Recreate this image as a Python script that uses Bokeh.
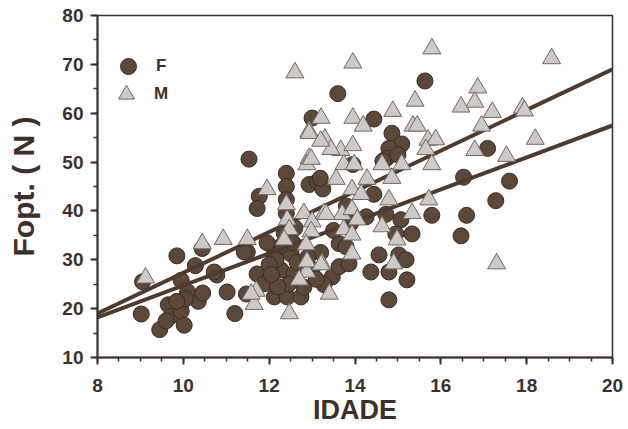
from bokeh.plotting import figure
from bokeh.models import Range1d, Legend, LegendItem, ColumnDataSource, SingleIntervalTicker
from bokeh.embed import file_html
from bokeh.resources import INLINE

# ---- data ----
f_age = [9.05, 9.02, 9.85, 10.44, 10.28, 10.78, 9.95, 10.10, 10.35, 10.45, 9.65, 9.72, 9.45, 9.95,
         10.02, 10.05, 9.60, 9.85, 11.02, 11.20, 11.49, 11.47, 11.53, 12.40, 12.40, 12.40, 12.40,
         11.77, 11.72, 12.93, 13.12, 13.25, 11.72, 11.88, 12.12, 12.42, 12.74, 12.12, 12.51, 12.28,
         12.58, 12.81, 12.16, 12.30, 12.00, 12.45, 12.65, 12.20, 11.95, 12.35, 12.60, 11.42, 10.72,
         13.00, 13.60, 14.44, 14.86, 15.09, 14.79, 14.74, 15.00, 14.44, 14.26, 14.72, 15.07, 15.33,
         14.95, 13.63, 14.56, 15.02, 15.19, 14.37, 14.79, 15.21, 14.79, 13.47, 13.63, 13.28, 13.86,
         13.79, 13.00, 13.20, 13.50, 13.90, 13.80, 13.95, 13.19, 14.65, 15.63, 17.09, 16.53, 17.60,
         17.28, 15.79, 16.60, 16.47, 12.05, 12.55, 12.90, 13.10]
f_fopt = [25.5, 18.9, 30.8, 32.3, 28.8, 26.9, 25.8, 23.4, 21.5, 23.2, 20.8, 18.5, 15.7, 19.5,
          16.6, 22.0, 17.5, 21.5, 23.4, 19.0, 31.6, 23.0, 50.6, 47.7, 45.0, 42.3, 39.5,
          43.0, 40.5, 45.4, 46.0, 44.5, 27.1, 25.1, 22.4, 22.4, 22.4, 31.2, 31.2, 27.9,
          27.1, 24.4, 30.0, 33.0, 29.0, 25.0, 29.5, 24.5, 33.5, 35.5, 36.5, 31.6, 27.5,
          59.0, 64.0, 58.8, 55.9, 53.7, 52.8, 50.8, 51.5, 43.4, 38.8, 39.3, 38.2, 35.3,
          35.3, 33.3, 31.0, 31.0, 30.0, 27.5, 27.5, 25.9, 21.8, 26.5, 28.6, 24.9, 29.2,
          32.7, 28.0, 31.5, 36.0, 37.5, 41.0, 49.5, 46.7, 50.2, 66.6, 52.8, 46.9, 46.1,
          42.1, 39.1, 39.1, 34.9, 27.0, 33.5, 30.5, 26.0]

m_age = [9.12, 10.44, 10.93, 11.49, 11.70, 11.65, 11.58, 12.47, 11.95, 12.40, 12.42, 12.47, 12.81,
         13.00, 12.98, 12.60, 12.93, 12.93, 12.88, 13.95, 15.40, 14.88, 13.95, 14.19, 13.21, 15.35,
         15.45, 13.30, 13.67, 13.95, 13.44, 15.70, 15.88, 15.65, 15.79, 15.72, 13.74, 13.98, 14.63,
         15.09, 13.56, 14.28, 14.86, 13.93, 14.14, 14.79, 15.33, 13.28, 13.70, 13.93, 14.05, 14.63,
         13.74, 13.93, 14.98, 13.93, 13.23, 14.90, 13.40, 12.93, 13.20, 12.98, 12.35, 12.88, 12.88,
         12.70, 13.21, 12.86, 13.33, 15.79, 18.58, 16.86, 16.79, 16.47, 17.20, 17.90, 17.95, 16.95,
         18.20, 16.79, 17.53, 17.30]
m_fopt = [26.3, 33.3, 34.2, 34.2, 23.6, 20.9, 23.0, 19.0, 44.4, 41.3, 38.2, 36.2, 39.5,
          37.8, 35.8, 68.3, 56.3, 50.8, 49.5, 70.3, 62.5, 60.4, 59.0, 57.4, 59.0, 57.4,
          57.4, 54.7, 52.4, 53.4, 52.6, 54.5, 54.6, 52.6, 49.5, 42.3, 49.5, 49.5, 49.5,
          49.5, 46.5, 46.5, 46.7, 44.4, 43.4, 42.3, 39.5, 39.5, 39.3, 40.3, 38.2, 36.8,
          36.2, 35.1, 34.1, 31.2, 29.2, 29.2, 23.0, 55.9, 54.3, 50.6, 34.1, 27.5, 29.6,
          25.9, 29.0, 33.1, 39.3, 73.2, 71.2, 65.2, 62.3, 61.3, 60.2, 61.1, 60.5, 57.4,
          54.7, 52.4, 51.2, 29.2]

line_x = [8, 20]
m_line_y = [19.0, 69.0]
f_line_y = [18.2, 57.5]

# ---- style ----
INK = "#3b302a"
BROWN = "#5c4838"
FONT = "Liberation Sans"

p = figure(width=628, height=429, output_backend="svg", toolbar_location=None,
           x_range=Range1d(8, 20), y_range=Range1d(10, 80),
           min_border_left=97, min_border_top=15, min_border_right=16, min_border_bottom=72)
p.background_fill_color = "white"
p.border_fill_color = "white"
p.outline_line_color = INK
p.outline_line_width = 1.5
p.grid.visible = False

fs = ColumnDataSource(dict(x=f_age, y=f_fopt))
ms = ColumnDataSource(dict(x=m_age, y=m_fopt))

rf = p.scatter("x", "y", source=fs, marker="circle", size=16,
               fill_color=BROWN, line_color="#3a2c22", line_width=1)
p.line(line_x, m_line_y, line_color="#4e3b2e", line_width=4)
p.line(line_x, f_line_y, line_color="#4e3b2e", line_width=4)
rm = p.scatter("x", "y", source=ms, marker="triangle", size=18,
               fill_color="#cdc9c6", line_color="#6f6863", line_width=1)

# axes
for ax in (p.xaxis[0], p.yaxis[0]):
    ax.axis_line_color = INK
    ax.axis_line_width = 2
    ax.major_tick_line_color = INK
    ax.minor_tick_line_color = INK
    ax.major_tick_line_width = 2
    ax.minor_tick_line_width = 1.5
    ax.major_tick_in = 0
    ax.minor_tick_in = 0
    ax.major_tick_out = 7
    ax.minor_tick_out = 4
    ax.major_label_text_font = FONT
    ax.major_label_text_font_style = "bold"
    ax.major_label_text_color = INK
    ax.axis_label_text_font = FONT
    ax.axis_label_text_font_style = "bold"
    ax.axis_label_text_color = INK

p.xaxis.ticker = SingleIntervalTicker(interval=2, num_minor_ticks=4)
p.yaxis.ticker = SingleIntervalTicker(interval=10, num_minor_ticks=2)
p.xaxis.major_label_text_font_size = "19px"
p.yaxis.major_label_text_font_size = "19px"
p.xaxis.major_label_standoff = 14
p.yaxis.major_label_standoff = 7
p.xaxis.axis_label = "IDADE"
p.yaxis.axis_label = "Fopt. ( N )"
p.xaxis.axis_label_text_font_size = "27px"
p.yaxis.axis_label_text_font_size = "30px"
p.xaxis.axis_label_standoff = 0
p.yaxis.axis_label_standoff = 19

common = dict(orientation="vertical", glyph_width=40, glyph_height=40, spacing=0,
              padding=0, margin=0, label_standoff=8, label_text_font=FONT,
              label_text_font_style="bold", label_text_font_size="17px",
              label_text_color=INK, background_fill_alpha=0, border_line_alpha=0)
leg_f = Legend(items=[LegendItem(label="F", renderers=[rf])], location=(11, 271), **common)
leg_m = Legend(items=[LegendItem(label="M", renderers=[rm])], location=(9, 243), **common)
p.add_layout(leg_f, "center")
p.add_layout(leg_m, "center")

open("out.html", "w").write(file_html(p, INLINE))
